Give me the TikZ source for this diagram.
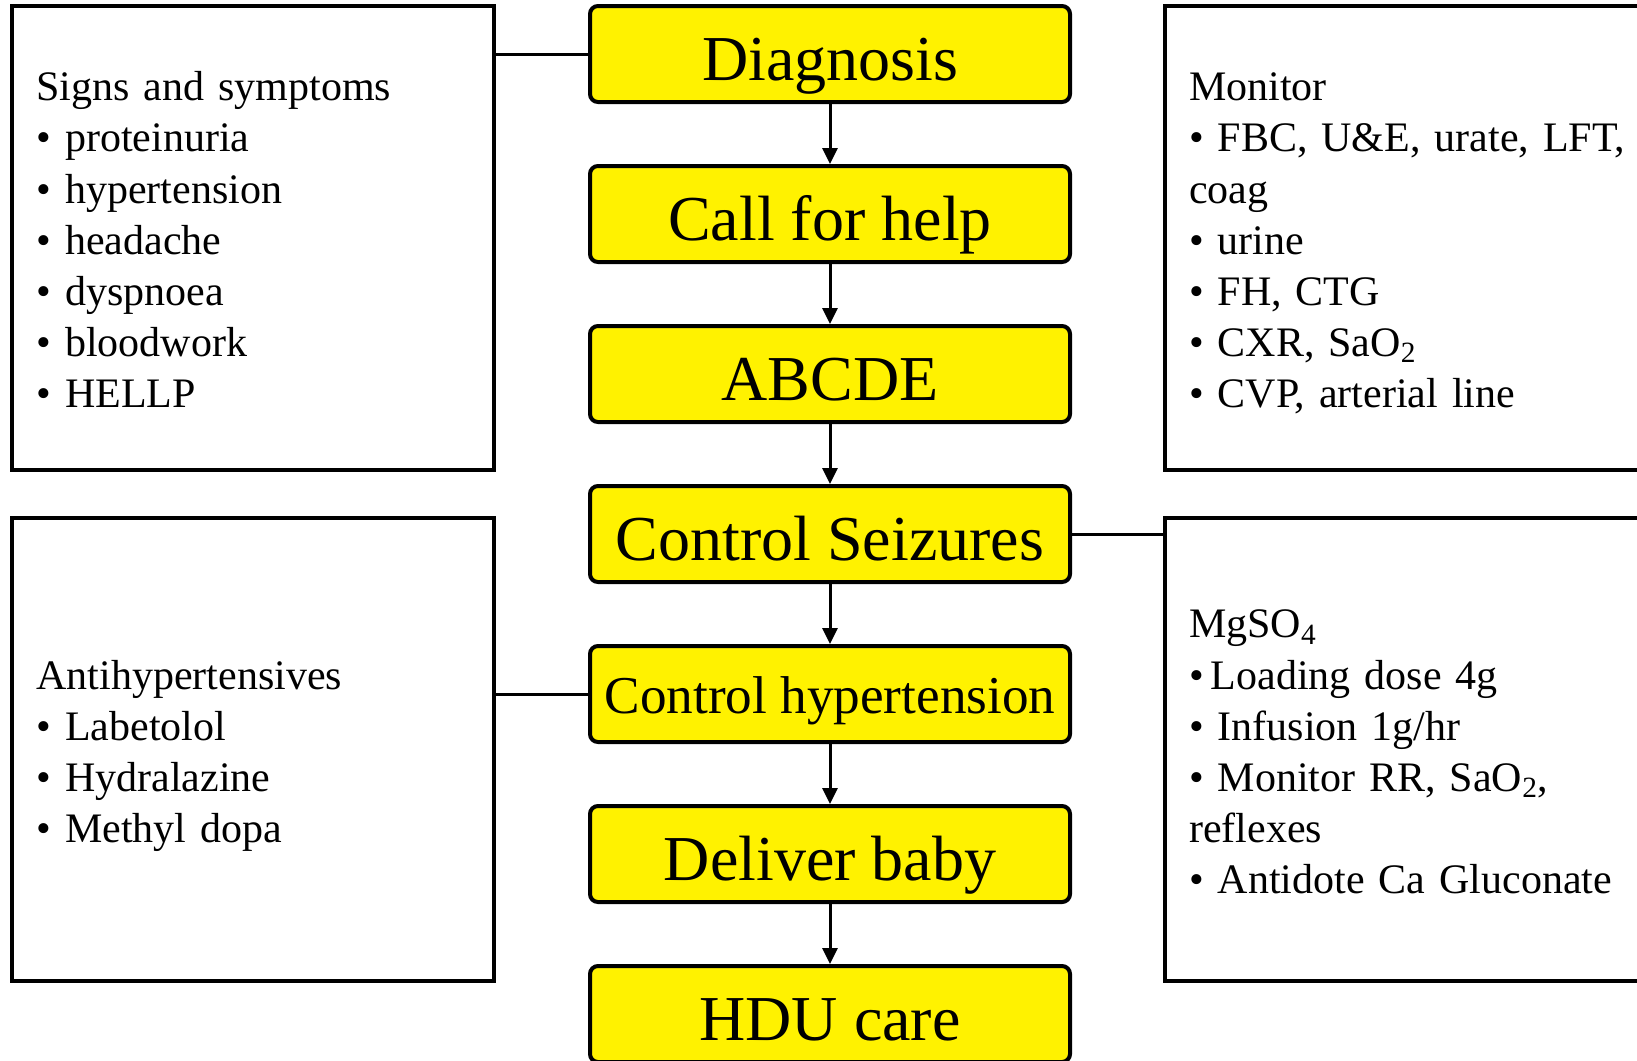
\documentclass[tikz,border=0pt]{standalone}
\usepackage{fontspec}
\setmainfont{Liberation Serif}
\usetikzlibrary{positioning,arrows.meta}
\newcommand{\notetop}{\rule{0pt}{24pt}}

\begin{document}
\begin{tikzpicture}[font=\fontsize{21}{25.6}\selectfont,
    flowbox/.style={draw,line width=2pt,fill=yellow,rounded corners=4pt,
        minimum width=240pt,minimum height=48pt,inner sep=0pt,
        text height=30pt,text depth=4pt,font=\fontsize{32}{36}\selectfont},
    notebox/.style={draw,line width=2pt,fill=white,minimum width=240.75pt,
        text width=216.75pt,align=left,inner sep=12pt},
    flow/.style={line width=1.5pt,-{Triangle[length=8pt,width=7.5pt]}},
    link/.style={line width=1.5pt}]
    \useasboundingbox (0,0) rectangle (818.5pt,-530pt);
    %%%%% THE FLOW
    \begin{scope}[node distance=30pt]
      \node[flowbox] (diag) at (415pt,-27pt) {Diagnosis};
      \node[flowbox,below=of diag] (help) {Call for help};
      \node[flowbox,below=of help] (abcde) {ABCDE};
      \node[flowbox,below=of abcde] (seiz) {Control Seizures};
      \node[flowbox,below=of seiz,text height=23pt,font=\fontsize{26.6}{30}\selectfont] (hyper) {Control hypertension};
      \node[flowbox,below=of hyper] (baby) {Deliver baby};
      \node[flowbox,below=of baby] (hdu) {HDU care};
    \end{scope}
    % steps one after the other
    \foreach \a/\b in {diag/help,help/abcde,abcde/seiz,seiz/hyper,hyper/baby,baby/hdu}
      \draw[flow] (\a.south) -- (\b.north);
    %%%%% THE NOTES
    \node[notebox,minimum height=232pt] (signs) at (126.6pt,-119pt) {\notetop Signs and symptoms\\
      \textbullet{} proteinuria\\
      \textbullet{} hypertension\\
      \textbullet{} headache\\
      \textbullet{} dyspnoea\\
      \textbullet{} bloodwork\\
      \textbullet{} HELLP\strut};
    \node[notebox,minimum height=231.5pt] (anti) at (126.6pt,-374.75pt) {\notetop Antihypertensives\\
      \textbullet{} Labetolol\\
      \textbullet{} Hydralazine\\
      \textbullet{} Methyl dopa\strut};
    \node[notebox,minimum height=232pt] (mon) at (702.9pt,-119pt) {\notetop Monitor\\
      \mbox{\textbullet{} FBC, U\&E, urate, LFT,}\\
      coag\\
      \textbullet{} urine\\
      \textbullet{} FH, CTG\\
      \textbullet{} CXR, SaO\textsubscript{2}\\
      \textbullet{} CVP, arterial line\strut};
    \node[notebox,minimum height=231.5pt] (mgso) at (702.9pt,-374.75pt) {\notetop MgSO\textsubscript{4}\\
      \textbullet{}\,Loading dose 4g\\
      \textbullet{} Infusion 1g/hr\\
      \textbullet{} Monitor RR, SaO\textsubscript{2},\\
      reflexes\\
      \textbullet{} Antidote Ca Gluconate\strut};
    %%%%% LINKS FROM THE FLOW TO THE NOTES
    \draw[link] (diag.west) -- (diag.west -| signs.east);
    \draw[link] (hyper.west) -- (hyper.west -| anti.east);
    \draw[link] (seiz.east) -- (seiz.east -| mgso.west);
\end{tikzpicture}
\end{document}
